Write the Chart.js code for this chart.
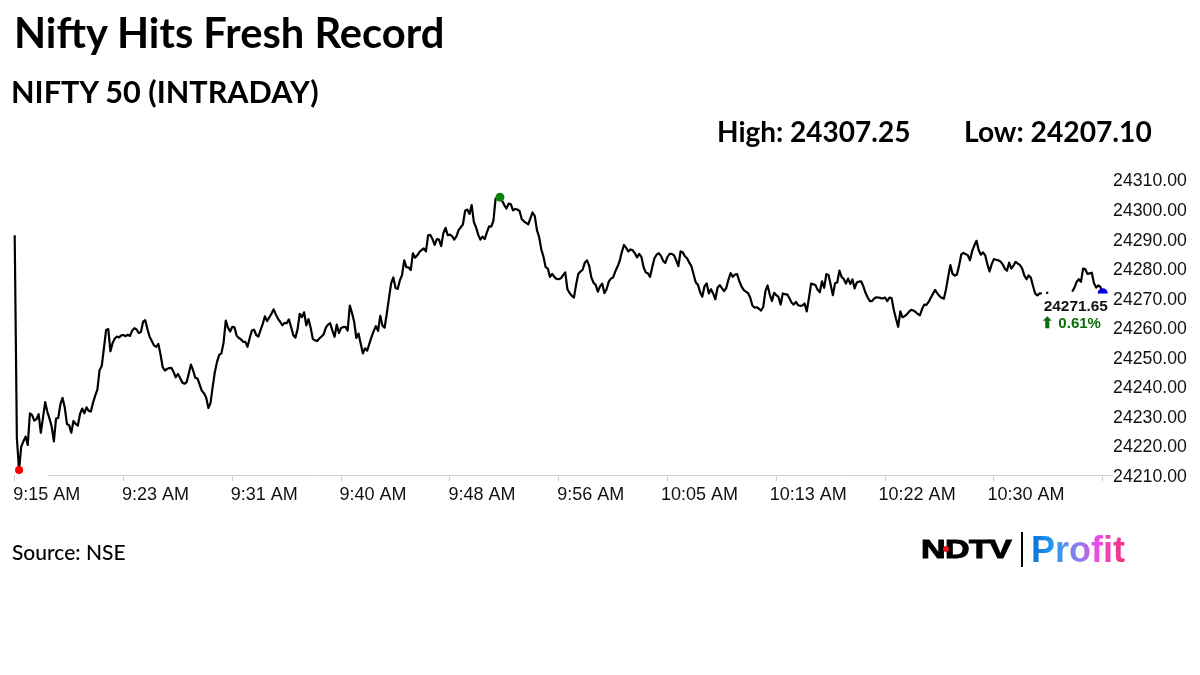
<!DOCTYPE html>
<html><head><meta charset="utf-8">
<script src="https://cdn.jsdelivr.net/npm/chart.js@4"></script>
<style>
html,body{margin:0;padding:0;background:#fff;width:1200px;height:675px;overflow:hidden}
canvas{position:absolute;left:0;top:0}
.t{position:absolute;white-space:nowrap;color:#000;font-family:Lato,sans-serif;font-weight:700;transform-origin:left center}
#logoN{font-family:"Liberation Sans",sans-serif;font-weight:700;font-size:26px;left:921px;top:534px;transform:scaleX(1.31);letter-spacing:-.5px;-webkit-text-stroke:1px #000}
#dot{position:absolute;left:943px;top:546px;width:6px;height:6px;border-radius:3px;background:#e8141c}
#bar{position:absolute;left:1021px;top:532px;width:2px;height:35px;background:#000}
#profit{font-family:"Liberation Sans",sans-serif;font-weight:700;font-size:36px;left:1031px;top:529px;background:linear-gradient(90deg,#0a6fd8 0%,#2a9df0 25%,#8f7df0 50%,#f04be0 72%,#f0307a 100%);-webkit-background-clip:text;background-clip:text;color:transparent}
</style></head><body>
<canvas id="c" width="1200" height="675"></canvas>
<div class="t" style="left:14px;top:7px;font-size:41.7px">Nifty Hits Fresh Record</div>
<div class="t" style="left:11px;top:73px;font-size:30.6px">NIFTY 50 (INTRADAY)</div>
<div class="t" style="left:717px;top:114px;font-size:28px">High: 24307.25</div>
<div class="t" style="left:964px;top:114px;font-size:28.2px">Low: 24207.10</div>
<div class="t" style="left:12px;top:539px;font-size:21px;font-weight:500">Source: NSE</div>
<div class="t" id="logoN">NDTV</div><div id="dot"></div><div id="bar"></div>
<div class="t" id="profit">Profit</div>
<script>
const tickLabels = ["9:15 AM","9:23 AM","9:31 AM","9:40 AM","9:48 AM","9:56 AM","10:05 AM","10:13 AM","10:22 AM","10:30 AM",""];
const yTicks = [24210,24310];
const lastLabel = "24271.65";
const changeLabel = "⬆ 0.61%";
// one reading every 10 s from 9:15; nulls where the value label hides the line
const niftyValues = [
24291.3,24222.5,24211.8,24219.7,24221.5,24223.1,24220.3,24231,24230.4,24228.5,
24229,24230.7,24224.4,24229.5,24234.8,24231.5,24229.2,24226.5,24221.5,24229.2,
24229.4,24234,24236.2,24233,24227.4,24227,24224.4,24228.4,24227.4,24226.8,
24230.7,24232.6,24231,24233,24231.8,24231.6,24234.6,24237,24239,24245.6,
24247,24253,24259.2,24259.5,24252,24254.8,24256.3,24257,24256.7,24257.4,
24257.5,24257.1,24257.6,24257.2,24259,24259.8,24259.4,24258.2,24258.5,24262,
24262.5,24259.5,24256.9,24255.5,24254,24253.5,24254.5,24251,24246.6,24245.5,
24246,24246.3,24246.4,24245,24243.2,24244.3,24243,24241.4,24241,24241.5,
24244.5,24247.5,24245.5,24243,24242.8,24240.7,24238.6,24237.8,24236.3,24232.8,
24234.5,24240,24245,24248.5,24250.8,24251.3,24255,24262.4,24260,24258.7,
24260.3,24260.1,24257.3,24256.5,24256,24255.2,24255.2,24253.5,24256.5,24259,
24259.3,24257.5,24257,24259.2,24261.3,24263.8,24262.2,24263.5,24264.7,24266.2,
24264.5,24263,24262,24260.8,24261.6,24261.5,24262.8,24260.3,24257.5,24256.6,
24259.5,24264.7,24263.6,24265.2,24260.8,24262.9,24260,24256.2,24255.7,24255.5,
24256.3,24257,24257.8,24260,24261,24261.5,24259,24256.9,24261,24258.2,
24259.9,24260.2,24260.3,24259,24267.5,24265,24262,24256.5,24258,24254.6,
24251.3,24253,24252.2,24254.6,24256.9,24258.9,24260.5,24258.9,24264,24260.7,
24260,24264.8,24270,24275,24277,24273.5,24273.1,24276,24277.8,24282.8,
24280.5,24280.4,24279.5,24285.2,24283.7,24284.5,24285.6,24286.3,24286.8,24285.8,
24291.3,24291.4,24290,24288,24290,24289.8,24287.6,24292,24293.8,24291.3,
24291.5,24291,24289.8,24290.9,24293,24294,24295,24299.6,24300,24298.5,
24301.5,24295.8,24294,24291.5,24289.8,24290.8,24290,24292.3,24294.3,24294.2,
24296.2,24303.7,24304,24304.2,24303,24301.5,24300.3,24302,24301.8,24299.7,
24300.2,24300,24299.5,24296.8,24296,24295.5,24295,24297,24299,24297.8,
24293,24290.7,24286.5,24284,24280.5,24280,24277.2,24278.2,24277.2,24276.5,
24276.4,24276.7,24277.8,24278.7,24273,24271.8,24270.8,24270.2,24274.5,24278.2,
24279,24279.6,24282,24282.8,24281,24277,24275.2,24274.5,24272.2,24274,
24274.9,24271.7,24273,24275.6,24276.6,24277,24279,24280.6,24282.5,24285.6,
24288,24287,24285.8,24286.5,24286.2,24285.2,24283.8,24285,24284,24280.5,
24278.7,24278.4,24277.2,24280.5,24283.5,24284.7,24285.2,24284.3,24282.6,24281.9,
24284,24285,24285,24284.5,24282.8,24280.8,24285.8,24285.5,24284.2,24283.5,
24282,24280.8,24278,24275.3,24274.5,24272,24270.5,24274,24275,24271.6,
24273,24271.5,24269.6,24273.5,24274.4,24273.4,24272.4,24273.4,24276.2,24278.5,
24277.2,24278,24278.1,24275.7,24274,24272.8,24272.2,24271.7,24270.2,24267.5,
24266.8,24266.9,24266.4,24265.8,24267,24272.4,24274.3,24271.2,24269,24271.8,
24271,24270.4,24267.8,24271.6,24271.3,24271.3,24270,24268.5,24267.8,24268.7,
24267.6,24267.4,24267.5,24268.2,24265.5,24270,24274.9,24274.7,24274.4,24272.8,
24272,24275.7,24273.5,24278.1,24277.8,24274.5,24271,24275,24275.3,24279.3,
24277.2,24276.5,24274.9,24276.6,24274.8,24276.3,24273.3,24275.3,24275.6,24275.7,
24274,24271.8,24270.2,24269,24269,24269.9,24270.3,24270.2,24270,24269.9,
24270.2,24269,24270.2,24270,24266,24263,24260.3,24265.5,24263.5,
24263.9,24264.5,24265.4,24266,24265.8,24265.3,24264.6,24264.2,24266.3,24267.8,
24267.7,24268.7,24270.1,24271.5,24272.8,24271.6,24270.7,24270.1,24269.8,24273,
24277.3,24281.2,24278.2,24277.6,24278,24281,24284.8,24285.3,24284.9,24284.5,
24282.8,24285.9,24287.8,24289.4,24286.3,24284.7,24285.5,24284.5,24281.5,24279,
24281.5,24283.2,24283,24282.8,24282.4,24281.5,24280,24279.3,24282,24280,
24281,24282.3,24281.7,24281.2,24280,24277.6,24276.4,24277.7,24276.9,24274,
24271.5,24270.9,24271.6,24271.6,null,24271.8,24271.8,null,null,null,
null,null,null,null,null,null,null,24272.2,24273.5,24275.5,24276.4,
24275.5,24280,24279.8,24278.2,24278.4,24278.6,24275,24273.6,24274.3,24273.7,
24271.65
];
const lowIndex = 2, highIndex = 223, lastIndex = 500;
const markerColors = {[lowIndex]:"#ff0000",[highIndex]:"#0a800a",[lastIndex]:"#0000e0"};
const markerRadii = {[lowIndex]:4,[highIndex]:4.5,[lastIndex]:5};

const decor = {
  id:"decor",
  beforeDatasetsDraw(ch){
    const {x,y} = ch.scales, c = ch.ctx, b = Math.round(y.getPixelForValue(yTicks[0]))+.5;
    c.save();c.strokeStyle="#cfcfcf";c.lineWidth=1;
    c.beginPath();c.moveTo(x.getPixelForValue(15),b);c.lineTo(x.getPixelForValue(lastIndex)+10,b);c.stroke();
    c.restore();
  },
  afterDatasetsDraw(ch){
    const {x,y} = ch.scales, c = ch.ctx;
    const px = x.getPixelForValue(lastIndex), py = y.getPixelForValue(niftyValues[lastIndex]);
    c.save();
    c.fillStyle="#fff";c.fillRect(px-55,py+0.3,62,40);
    c.textAlign="left";c.textBaseline="middle";
    c.font='bold 15.4px "Liberation Sans",sans-serif';
    c.fillStyle="#111";c.fillText(lastLabel,px-59,py+13.5);
    c.font='bold 15px "Liberation Sans",sans-serif';
    c.fillStyle="#0a6e0a";c.fillText(changeLabel,px-61.5,py+30.5);
    c.restore();
  }
};
new Chart(document.getElementById("c"),{
  type:"line",
  plugins:[decor],
  data:{datasets:[{
    data:niftyValues.map((v,i)=>({x:i,y:v})),
    borderColor:"#000",borderWidth:2.2,tension:0,spanGaps:false,fill:false,clip:false,
    borderJoinStyle:"round",
    pointRadius:c=>markerRadii[c.dataIndex]||0,
    pointBorderWidth:0,
    pointBackgroundColor:c=>markerColors[c.dataIndex]||"#000"
  }]},
  options:{
    responsive:false,animation:false,devicePixelRatio:1,
    layout:{padding:{left:14.7,right:0,top:180,bottom:0}},
    plugins:{legend:{display:false},tooltip:{enabled:false},title:{display:false}},
    scales:{
      x:{type:"linear",min:0,max:500,
        afterFit(s){s.height=199.7;s.paddingLeft=0;s.paddingRight=0;},
        border:{display:false},
        grid:{drawOnChartArea:false,drawTicks:true,tickLength:6,tickColor:"#cfcfcf",tickWidth:1},
        ticks:{stepSize:50,autoSkip:false,maxRotation:0,minRotation:0,padding:3,labelOffset:32,
          color:"#111",font:{family:'"Liberation Sans",sans-serif',size:18},
          callback:v=>tickLabels[v/50]}
      },
      y:{position:"right",min:yTicks[0],max:yTicks[1],
        afterFit(s){s.width=97.3;s.paddingTop=0;s.paddingBottom=0;},
        border:{display:false},
        grid:{display:false,drawTicks:false},
        ticks:{stepSize:10,padding:10.4,labelOffset:1.6,color:"#111",font:{family:'"Liberation Sans",sans-serif',size:17.7},
          callback:v=>v.toFixed(2)}
      }
    }
  }
});
</script>
</body></html>
